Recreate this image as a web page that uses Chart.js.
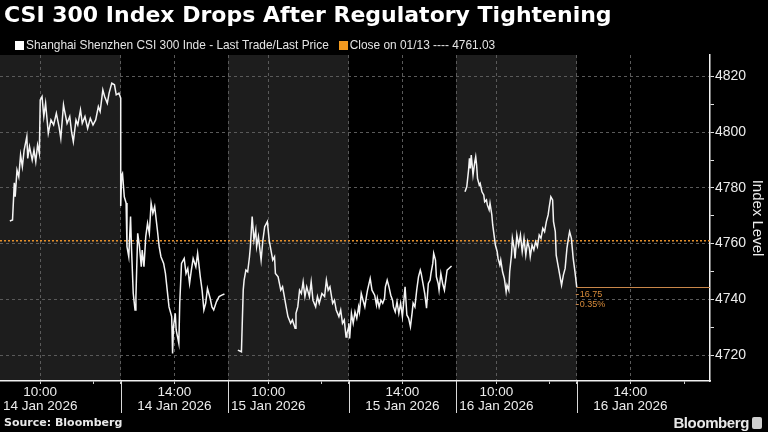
<!DOCTYPE html>
<html>
<head>
<meta charset="utf-8">
<script src="https://cdn.jsdelivr.net/npm/chart.js@4.4.1/dist/chart.umd.min.js"></script>
<style>
  html, body { margin: 0; padding: 0; background: #000; }
  body { width: 768px; height: 432px; position: relative; overflow: hidden; font-family: 'Liberation Sans', Arial, sans-serif; color: #fff; }
  #wrap { position: absolute; left: 0; top: 0; width: 768px; height: 432px; }
  #title { position: absolute; left: 4px; top: 4px; font-family: 'DejaVu Sans', sans-serif; font-size: 22px; line-height: 22px; font-weight: bold; white-space: nowrap; }
  #legend { position: absolute; left: 15px; top: 38px; height: 14px; font-size: 11.9px; line-height: 14px; color: #e4e4e4; white-space: nowrap; display: flex; align-items: center; }
  #legend .box { display: inline-block; width: 9px; height: 9px; margin-right: 2px; }
  #legend .item { display: flex; align-items: center; margin-right: 10px; }
  #source { position: absolute; left: 4px; top: 416px; font-family: 'DejaVu Sans', sans-serif; font-size: 11px; line-height: 14px; font-weight: bold; color: #e8e8e8; }
  #brand { position: absolute; right: 6px; top: 414px; font-size: 15px; line-height: 17px; font-weight: bold; color: #e8e8e8; letter-spacing: -0.4px; display: flex; align-items: center; }
  #brand .logo { display: inline-block; width: 10px; height: 12px; margin-left: 3px; border-radius: 2px; background: #cfcfcf; }
</style>
</head>
<body>
<div id="wrap"><canvas id="chart"></canvas></div>
<div id="title">CSI 300 Index Drops After Regulatory Tightening</div>
<div id="legend"></div>
<div id="source">Source: Bloomberg</div>
<div id="brand">Bloomberg<span class="logo"></span></div>
<script>
// datos (hora de Shanghai, puntos de giro aprox.)
const dayLabels = ['14 Jan 2026', '15 Jan 2026', '16 Jan 2026']
const seriesLabel = 'Shanghai Shenzhen CSI 300 Inde - Last Trade/Last Price'
const closeLabel = 'Close on 01/13'
const prevClose = 4761.03
const labelTimes = ['10:00', '14:00']
const minorTimes = ['11:00', '15:00']

const day1Times = ['09:26','09:29','09:31','09:32','09:34','09:36','09:38','09:40','09:42','09:45','09:46','09:48','09:51','09:53','09:55','09:57','09:59',
  '10:00','10:02','10:04','10:06','10:09','10:12','10:15','10:18','10:21','10:23','10:26','10:27','10:30','10:33','10:35','10:37','10:40','10:42','10:45','10:47','10:50','10:53','10:56','10:59',
  '11:02','11:05','11:07','11:10','11:12','11:15','11:17','11:20','11:23','11:25','11:28','11:30',
  '13:00','13:01','13:02','13:04','13:06','13:07','13:09','13:11','13:12','13:14','13:16','13:17','13:19','13:21','13:23','13:24','13:26','13:28','13:30','13:32','13:34','13:36','13:38','13:41','13:43','13:45','13:48','13:50','13:52','13:54','13:57','13:58','13:59',
  '14:01','14:02','14:05','14:06','14:08','14:11','14:13','14:15','14:17','14:19','14:21','14:24','14:26','14:29','14:31','14:33','14:35','14:37','14:40','14:42','14:44','14:47','14:50','14:53','14:56']
const day1Values = [4768.1,4768.5,4781.8,4776.8,4786.4,4784.0,4791.8,4787.6,4793.6,4798.4,4790.6,4794.8,4790.0,4793.6,4789.4,4795.4,4792.4,
  4811.6,4812.8,4805.6,4810.4,4799.6,4804.4,4802.6,4806.8,4802.0,4797.8,4809.8,4808.0,4803.2,4805.6,4800.2,4796.6,4804.4,4802.6,4808.0,4803.2,4805.6,4801.4,4805.0,4802.6,
  4804.4,4809.2,4807.4,4815.2,4812.8,4810.4,4814.0,4817.6,4817.0,4813.4,4814.0,4812.2,
  4773.5,4784.5,4785.2,4776.8,4774.6,4758.9,4755.3,4769.7,4758.9,4742.2,4736.2,4741.0,4763.7,4758.9,4751.7,4757.7,4751.7,4762.5,4767.3,4763.7,4774.5,4770.9,4773.3,4764.9,4758.9,4755.3,4752.9,4749.3,4743.3,4737.3,4733.8,4720.6,4730.2,
  4735.0,4729.0,4724.2,4738.6,4752.9,4754.7,4749.3,4751.1,4745.7,4750.5,4754.7,4751.7,4756.5,4748.1,4743.3,4736.2,4738.6,4743.9,4740.4,4737.3,4736.2,4739.1,4741.0,4741.5,4741.9]

const day2Times = ['09:26','09:30','09:32','09:33','09:35','09:37','09:39','09:40','09:42','09:44','09:46','09:47','09:49','09:52','09:54','09:56','09:59',
  '10:01','10:03','10:05','10:07','10:08','10:11','10:14','10:16','10:18','10:20','10:22','10:25','10:27','10:30','10:31','10:33','10:35','10:37','10:39','10:41','10:43','10:46','10:48','10:50','10:53','10:55','10:57',
  '11:00','11:03','11:05','11:07','11:09','11:12','11:14','11:16','11:19','11:21','11:23','11:25','11:27','11:28','11:30',
  '13:00','13:01','13:03','13:05','13:07','13:09','13:11','13:12','13:14','13:16','13:18','13:20','13:21','13:24','13:26','13:29','13:31','13:32','13:34','13:36','13:38','13:40','13:41','13:43','13:45','13:47','13:49','13:50','13:52','13:54','13:56','13:58',
  '14:00','14:01','14:03','14:05','14:07','14:09','14:11','14:12','14:14','14:16','14:18','14:20','14:21','14:23','14:25','14:27','14:29','14:31','14:32','14:34','14:35','14:37','14:38','14:40','14:41','14:43','14:45','14:47','14:49','14:50','14:52','14:55']
const day2Values = [4721.8,4721.2,4743.3,4746.9,4750.5,4749.9,4755.3,4758.9,4769.7,4761.3,4764.9,4758.9,4762.5,4754.1,4761.3,4766.1,4767.9,
  4761.3,4757.7,4754.1,4755.3,4749.3,4748.1,4743.3,4744.5,4741.0,4737.3,4733.8,4731.4,4732.6,4729.6,4735.0,4737.3,4743.3,4742.1,4746.3,4741.0,4744.5,4741.0,4746.3,4739.7,4737.3,4741.0,4738.6,
  4742.1,4741.0,4746.9,4743.3,4744.5,4738.6,4739.7,4736.2,4733.8,4736.2,4731.4,4732.6,4726.5,4727.8,4730.2,
  4731.4,4726.0,4735.0,4731.4,4735.5,4733.2,4737.3,4735.5,4742.1,4739.7,4737.3,4741.5,4743.3,4747.5,4743.3,4741.5,4738.0,4740.4,4737.3,4739.7,4738.6,4740.4,4744.5,4746.9,4744.5,4741.5,4739.7,4737.3,4735.5,4739.1,4735.0,4738.6,
  4733.8,4737.3,4744.5,4734.4,4733.2,4730.2,4735.5,4738.6,4737.3,4743.3,4748.1,4750.5,4749.3,4745.7,4742.1,4736.8,4745.7,4746.9,4749.3,4752.9,4756.5,4754.1,4748.1,4745.7,4743.3,4749.3,4745.7,4743.3,4748.1,4750.5,4751.1,4752.0]

const day3Times = ['09:25','09:27','09:29','09:30','09:31','09:32','09:34','09:36','09:37','09:38','09:39','09:41','09:42','09:44','09:46','09:47','09:49','09:50','09:52','09:53','09:55','09:56','09:58','09:59',
  '10:01','10:02','10:04','10:05','10:07','10:09','10:11','10:12','10:14','10:15','10:17','10:18','10:20','10:21','10:23','10:25','10:27','10:29','10:31','10:33','10:35','10:37','10:38','10:40','10:42','10:44','10:46','10:48','10:50','10:52','10:54','10:56','10:58','10:59',
  '11:01','11:03','11:04','11:06','11:07','11:09','11:11','11:13','11:15','11:17','11:19','11:21','11:22','11:24','11:26','11:28','11:30']
const day3Values = [4778.6,4780.4,4786.4,4790.6,4787.0,4791.8,4784.6,4789.4,4791.2,4788.2,4783.4,4781.0,4781.6,4778.6,4777.5,4775.0,4775.7,4773.9,4772.1,4774.5,4770.3,4766.7,4761.9,4759.5,
  4757.1,4754.7,4752.3,4754.1,4749.9,4747.5,4742.7,4745.1,4743.3,4749.9,4755.9,4761.9,4758.3,4754.7,4763.1,4759.5,4763.1,4757.1,4761.9,4755.9,4760.7,4758.3,4755.3,4759.5,4757.7,4760.7,4758.9,4763.1,4761.9,4765.5,4764.3,4767.9,4770.3,4772.7,
  4776.8,4775.7,4767.9,4764.3,4755.9,4752.3,4748.7,4745.1,4748.7,4751.1,4758.3,4762.5,4764.3,4761.9,4754.7,4749.9,4744.28]

// eje de tiempo de negociacion: 09:15-11:30 y 13:00-15:00 por dia
const DAY_SLOTS = 255
const X_MAX = 794

const toMin = t => {
    const [h, m] = t.split(':').map(Number)
    return h * 60 + m
}

const tradingPos = (day, t) => {
    const m = toMin(t)
    const off = m <= toMin('11:30') ? m - toMin('09:15') : 135 + (m - toMin('13:00'))
    return day * DAY_SLOTS + off
}

const days = [[day1Times, day1Values], [day2Times, day2Values], [day3Times, day3Values]]
const seriesData = []
days.forEach(([times, vals], d) => {
    if (d > 0) seriesData.push({ x: tradingPos(d, '09:15'), y: null })
    times.forEach((t, i) => seriesData.push({ x: tradingPos(d, t), y: vals[i] }))
})
const lastValue = day3Values[day3Values.length - 1]

// ticks del eje x
const xTickLabels = {}
const xTicks = []
const xGridValues = new Set()
const xBoundaries = []
dayLabels.forEach((lbl, d) => {
    labelTimes.forEach(t => { xTickLabels[tradingPos(d, t)] = [t, lbl] })
    ;[...labelTimes, ...minorTimes, '13:00'].forEach(t => xTicks.push(tradingPos(d, t)))
    xGridValues.add(tradingPos(d, '10:00'))
    xGridValues.add(tradingPos(d, '13:00'))
    xGridValues.add(tradingPos(d, '14:00'))
    xBoundaries.push(tradingPos(d, '13:00'))
    if (d < dayLabels.length - 1) {
        xGridValues.add(tradingPos(d, '15:00'))
        xBoundaries.push(tradingPos(d, '15:00'))
    }
})
xTicks.sort((a, b) => a - b)

const yTicks = []
for (let v = 4720; v <= 4820; v += 10) yTicks.push(v)

// leyenda
const legend = document.getElementById('legend')
legend.innerHTML = `<span class="item"><span class="box" style="background:#fff"></span>${seriesLabel}</span>` +
    `<span class="item"><span class="box" style="background:#f29a1f"></span>${closeLabel} ---- ${prevClose}</span>`

const sessionBands = {
    id: 'sessionBands',
    beforeDraw(chart) {
        const { ctx, chartArea: a, scales: { x } } = chart
        ctx.save()
        ctx.fillStyle = '#000'
        ctx.fillRect(a.left, a.top, a.width, a.height)
        ctx.fillStyle = '#1d1d1d'
        dayLabels.forEach((_, d) => {
            const x0 = x.getPixelForValue(tradingPos(d, '09:15'))
            const x1 = x.getPixelForValue(tradingPos(d, '11:30'))
            ctx.fillRect(x0, a.top, x1 - x0, a.height)
        })
        ctx.restore()
    },
    afterDatasetsDraw(chart) {
        const { ctx, chartArea: a, scales: { y } } = chart
        const meta = chart.getDatasetMeta(0)
        const last = meta.data[meta.data.length - 1]
        const py = Math.round(y.getPixelForValue(lastValue)) + 0.5
        const change = (prevClose - lastValue).toFixed(2)
        const pct = ((prevClose - lastValue) / prevClose * 100).toFixed(2) + '%'
        ctx.save()
        ctx.strokeStyle = '#c9874a'
        ctx.lineWidth = 1
        ctx.beginPath()
        ctx.moveTo(last.x, py)
        ctx.lineTo(a.right, py)
        ctx.stroke()
        ctx.font = '9px "Liberation Sans"'
        ctx.fillStyle = '#d98c3a'
        ctx.textBaseline = 'middle'
        ctx.fillText(change, last.x + 3, py + 7)
        ctx.fillText(pct, last.x + 3, py + 17)
        ctx.beginPath()
        ctx.moveTo(last.x - 1, py + 7); ctx.lineTo(last.x + 2, py + 7)
        ctx.moveTo(last.x - 1, py + 17); ctx.lineTo(last.x + 2, py + 17)
        ctx.stroke()
        ctx.restore()
    },
    afterDraw(chart) {
        const { ctx, chartArea: a, scales: { x } } = chart
        ctx.save()
        ctx.strokeStyle = '#d8d8d8'
        ctx.lineWidth = 1
        ctx.beginPath()
        xBoundaries.forEach(v => {
            const px = Math.round(x.getPixelForValue(v)) + 0.5
            ctx.moveTo(px, a.bottom)
            ctx.lineTo(px, a.bottom + 32)
        })
        ctx.stroke()
        ctx.restore()
    }
}

Chart.defaults.font.family = '"Liberation Sans", Arial, sans-serif'

const canvas = document.getElementById('chart')
const chart = new Chart(canvas.getContext('2d'), {
    type: 'line',
    data: {
        datasets: [
            {
                label: seriesLabel,
                data: seriesData,
                borderColor: '#f4f4f4',
                backgroundColor: '#fff',
                borderWidth: 1.5,
                pointRadius: 0,
                tension: 0,
                spanGaps: false
            },
            {
                label: `${closeLabel} ---- ${prevClose}`,
                data: [{ x: 0, y: prevClose }, { x: X_MAX, y: prevClose }],
                borderColor: '#e8922c',
                backgroundColor: '#f29a1f',
                borderWidth: 1.5,
                borderDash: [2, 2],
                pointRadius: 0
            }
        ]
    },
    options: {
        animation: false,
        responsive: true,
        maintainAspectRatio: false,
        layout: { padding: { top: 55, left: 0, right: 0, bottom: 0 } },
        plugins: {
            legend: { display: false },
            tooltip: { enabled: false }
        },
        scales: {
            x: {
                type: 'linear',
                position: 'bottom',
                min: 0,
                max: X_MAX,
                afterBuildTicks: scale => { scale.ticks = xTicks.map(v => ({ value: v })) },
                afterFit: scale => { scale.height = 51 },
                ticks: {
                    autoSkip: false,
                    maxRotation: 0,
                    minRotation: 0,
                    color: '#ececec',
                    padding: 1,
                    font: { size: 13.5, lineHeight: 1.06 },
                    callback: v => xTickLabels[v] || ''
                },
                grid: {
                    color: ctx => (ctx.tick && xGridValues.has(ctx.tick.value)) ? '#5a5a5a' : 'transparent',
                    lineWidth: 1,
                    tickColor: '#cfcfcf',
                    tickLength: 3
                },
                border: { display: true, color: '#f0f0f0', width: 1.5, dash: [3, 3] }
            },
            y: {
                type: 'linear',
                position: 'right',
                min: 4710.7,
                max: 4827.7,
                afterBuildTicks: scale => { scale.ticks = yTicks.map(v => ({ value: v })) },
                afterFit: scale => { scale.width = 58 },
                ticks: {
                    color: '#ececec',
                    padding: 1,
                    font: { size: 14 },
                    callback: v => (v % 20 === 0 ? String(v) : '')
                },
                grid: {
                    color: ctx => (ctx.tick && ctx.tick.value % 20 === 0) ? '#5a5a5a' : 'transparent',
                    lineWidth: 1,
                    tickColor: '#e0e0e0',
                    tickLength: 4
                },
                border: { display: true, color: '#f0f0f0', width: 1.5, dash: [3, 3] },
                title: {
                    display: true,
                    text: 'Index Level',
                    color: '#ececec',
                    font: { size: 15 },
                    padding: { top: 2, bottom: 0 }
                }
            }
        }
    },
    plugins: [sessionBands]
})
</script>
</body>
</html>
